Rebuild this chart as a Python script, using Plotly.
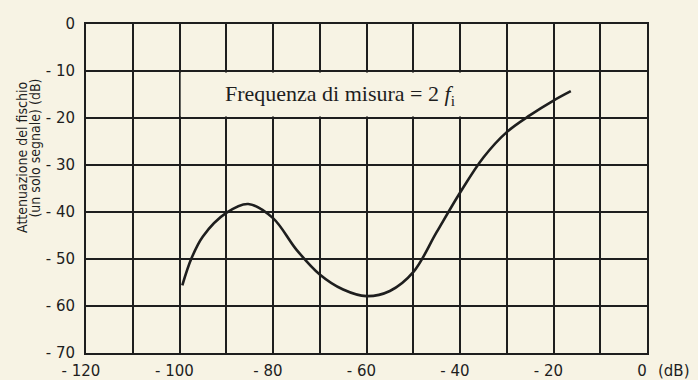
import plotly.graph_objects as go

# Whistle attenuation vs. input level (single signal), measured at 2 f_i
level_db = [-99.4, -97.5, -95.0, -90.0, -85.3, -80.0, -75.0, -70.0, -65.0, -60.0,
            -55.0, -50.0, -45.0, -40.0, -35.0, -30.0, -25.0, -20.0, -16.3]
attenuation_db = [-55.6, -50.0, -45.2, -40.2, -38.3, -41.3, -48.0, -53.3, -56.5, -57.9,
                  -56.8, -52.8, -44.3, -35.9, -28.4, -23.0, -19.4, -16.3, -14.3]

x_ticks = [-120, -100, -80, -60, -40, -20, 0]
x_tick_text = ["- 120", "- 100", "- 80", "- 60", "- 40", "- 20", "0"]
y_ticks = [0, -10, -20, -30, -40, -50, -60, -70]
y_tick_text = ["0", "- 10", "- 20", "- 30", "- 40", "- 50", "- 60", "- 70"]

paper = "#f7f3e4"
ink = "#1e1e1e"
serif = "Liberation Serif"
sans = "DejaVu Sans"
tick_font = dict(family=sans, size=15, color=ink)

fig = go.Figure()
fig.add_trace(go.Scatter(
    x=level_db, y=attenuation_db, mode="lines",
    line=dict(color=ink, width=2.6, shape="spline", smoothing=1.0),
    hoverinfo="skip", showlegend=False,
))

fig.update_layout(
    width=698, height=380,
    margin=dict(l=86, r=51, t=24, b=27),
    paper_bgcolor=paper, plot_bgcolor=paper,
    font=dict(family=serif, size=14, color=ink),
    xaxis=dict(
        range=[-120, 0], tickvals=x_ticks, ticktext=x_tick_text,
        ticks="", ticklabelshift=-5, ticklabelstandoff=3, automargin=False,
        showgrid=True, gridcolor=ink, gridwidth=1.6,
        minor=dict(dtick=10, showgrid=True, gridcolor=ink, gridwidth=1.6, ticks=""),
        showline=True, linecolor=ink, linewidth=1.8, mirror=True,
        zeroline=False, tickfont=tick_font,
    ),
    yaxis=dict(
        range=[-70, 0], tickvals=y_ticks, ticktext=y_tick_text,
        ticks="", ticklabelstandoff=6, automargin=False,
        showgrid=True, gridcolor=ink, gridwidth=1.6,
        showline=True, linecolor=ink, linewidth=1.8, mirror=True,
        zeroline=False, tickfont=tick_font,
    ),
)

# blank panel behind the measuring-frequency caption
fig.add_shape(type="rect", xref="x", yref="y", layer="between",
              x0=-99.75, x1=-30.25, y0=-19.7, y1=-10.3,
              fillcolor=paper, line=dict(width=0))

fig.add_annotation(x=-65.7, y=-15.1, xref="x", yref="y", showarrow=False,
                   text="Frequenza di misura = 2 <i>f</i><sub>i</sub>",
                   font=dict(family=serif, size=22, color=ink))

# unit after the last x tick label
fig.add_annotation(x=0, y=0, xref="x", yref="paper", yanchor="top",
                   xanchor="left", xshift=9, yshift=-7, showarrow=False,
                   text="(dB)", font=tick_font)

# two-line y-axis title
title_font = dict(family="DejaVu Sans Condensed", size=14, color=ink)
fig.add_annotation(x=-0.114, y=0.593, xref="paper", yref="paper", showarrow=False,
                   textangle=-90, xanchor="center", yanchor="middle",
                   text="Attenuazione del fischio", font=title_font)
fig.add_annotation(x=-0.090, y=0.623, xref="paper", yref="paper", showarrow=False,
                   textangle=-90, xanchor="center", yanchor="middle",
                   text="(un solo segnale) (dB)", font=title_font)

fig.write_html("out.html")
